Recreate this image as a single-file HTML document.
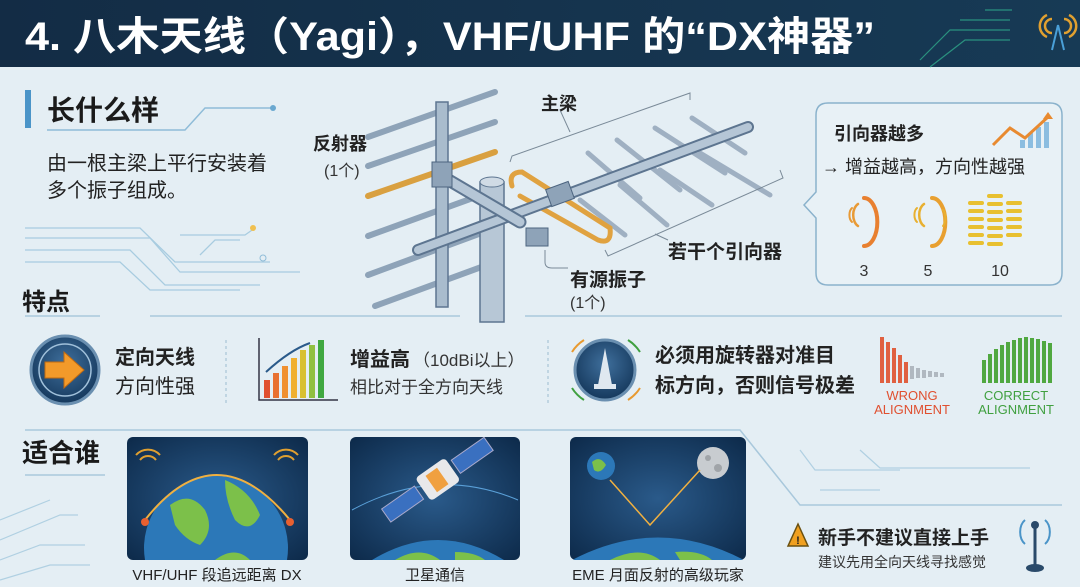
<!DOCTYPE html>
<html><head><meta charset="utf-8"><style>
html,body{margin:0;padding:0;background:#e4eef4;width:1080px;height:587px;overflow:hidden;}
svg{display:block}
text{font-family:"Liberation Sans","Noto Sans CJK SC",sans-serif;}
</style></head><body>
<svg width="1080" height="587" viewBox="0 0 1080 587" xmlns="http://www.w3.org/2000/svg">
<defs>
<linearGradient id="hd" x1="0" x2="1"><stop offset="0" stop-color="#132c45"/><stop offset="1" stop-color="#173a55"/></linearGradient>
<radialGradient id="sp" cx="0.5" cy="0.5" r="0.7"><stop offset="0" stop-color="#2a5a8a"/><stop offset="1" stop-color="#0d2a4a"/></radialGradient>
<radialGradient id="ic" cx="0.5" cy="0.4" r="0.6"><stop offset="0" stop-color="#3f6f9c"/><stop offset="1" stop-color="#15385c"/></radialGradient>
<clipPath id="c1"><rect x="127" y="437" width="181" height="123" rx="6"/></clipPath>
<clipPath id="c2"><rect x="350" y="437" width="170" height="123" rx="6"/></clipPath>
<clipPath id="c3"><rect x="570" y="437" width="176" height="123" rx="6"/></clipPath>
</defs>
<rect width="1080" height="587" fill="#e4eef4"/>
<!-- header -->
<rect width="1080" height="67" fill="url(#hd)"/>
<text x="25" y="50" font-size="40" font-weight="bold" fill="#fff" textLength="850" lengthAdjust="spacingAndGlyphs">4. 八木天线（Yagi），VHF/UHF 的“DX神器”</text>
<g stroke="#2fa88a" stroke-width="1.2" fill="none" opacity="0.8">
<path d="M920 60 L950 30 H1010"/><path d="M930 67 L965 40 H1010"/><path d="M960 20 H1010"/><path d="M985 10 H1012"/>
</g>
<g fill="none" stroke="#e0a030" stroke-width="2.5"><path d="M1047 15 a12 12 0 0 0 0 22"/><path d="M1069 15 a12 12 0 0 1 0 22"/><path d="M1052 19 a7 7 0 0 0 0 14"/><path d="M1064 19 a7 7 0 0 1 0 14"/></g>
<path d="M1058 25 L1052 50 M1058 25 L1064 50" stroke="#4aa0d8" stroke-width="2"/>
<!-- section 1 -->
<rect x="25" y="90" width="6" height="38" fill="#4a94c8"/>
<text x="47" y="120" font-size="28" font-weight="bold" fill="#1a1a1a">长什么样</text>
<path d="M47 130 H185 L205 108 H272" stroke="#8fbcd8" stroke-width="1.5" fill="none"/><circle cx="273" cy="108" r="3" fill="#6aa8d0"/>
<text x="47" y="170" font-size="20" fill="#222">由一根主梁上平行安装着</text>
<text x="47" y="197" font-size="20" fill="#222">多个振子组成。</text>
<g stroke="#a8cce0" stroke-width="1.3" fill="none">
<path d="M25 228 H140 L175 262 H270"/><path d="M25 238 H150 L180 272 H300"/><path d="M25 250 H130 L165 285 H260"/><path d="M25 262 H120 L150 290 H240"/><path d="M180 235 H245 L255 228"/><path d="M200 255 L215 240 H240"/>
</g>
<circle cx="253" cy="228" r="3" fill="#f0c050"/><circle cx="263" cy="258" r="3" fill="none" stroke="#8fbcd8"/>
<!-- antenna -->
<g stroke-linecap="round">
<g stroke="#8ea3b8" stroke-width="6">
<line x1="368" y1="137" x2="495" y2="92"/><line x1="368" y1="166" x2="495" y2="122"/>
<line x1="368" y1="236" x2="495" y2="190"/><line x1="368" y1="275" x2="495" y2="228"/><line x1="375" y1="306" x2="495" y2="262"/>
</g>
<line x1="368" y1="196" x2="495" y2="152" stroke="#d9a040" stroke-width="6"/>
<rect x="436" y="102" width="12" height="205" fill="#a9bccd" stroke="#5d7590" stroke-width="1.5"/>
<rect x="480" y="182" width="24" height="140" fill="#b7c7d6" stroke="#5d7590" stroke-width="1.5"/>
<ellipse cx="492" cy="182" rx="12" ry="5" fill="#d0dbe5" stroke="#5d7590"/>
<g stroke="#9fb0c2" stroke-width="5">
<line x1="588" y1="153" x2="640" y2="198"/><line x1="617" y1="140" x2="680" y2="190"/><line x1="655" y1="128" x2="725" y2="173"/><line x1="692" y1="118" x2="745" y2="153"/>
<line x1="580" y1="200" x2="625" y2="235"/><line x1="620" y1="185" x2="667" y2="225"/><line x1="660" y1="170" x2="712" y2="205"/><line x1="700" y1="153" x2="770" y2="195"/>
</g>
<path d="M512 186 Q508 172 522 172 L610 228 Q612 245 598 240 L520 196" fill="none" stroke="#e0a240" stroke-width="5"/>
<line x1="418" y1="250" x2="748" y2="127" stroke="#5d7590" stroke-width="12"/>
<line x1="418" y1="250" x2="748" y2="127" stroke="#b5c6d6" stroke-width="8"/>
<line x1="440" y1="175" x2="520" y2="222" stroke="#5d7590" stroke-width="13"/>
<line x1="440" y1="175" x2="520" y2="222" stroke="#b5c6d6" stroke-width="9"/>
<rect x="432" y="162" width="20" height="25" fill="#8ea3b8" stroke="#4d6580"/>
<rect x="548" y="185" width="24" height="18" fill="#8ea3b8" stroke="#4d6580" transform="rotate(-20 560 194)"/>
<rect x="526" y="228" width="22" height="18" fill="#8ea3b8" stroke="#4d6580"/>
</g>
<g stroke="#7a8a98" stroke-width="1" fill="none">
<path d="M510 162 L512 156 L690 93 L690 100"/><path d="M560 110 L570 132"/>
<path d="M605 250 L608 256 L783 178 L780 170"/><path d="M655 234 L668 240"/>
<path d="M545 250 V262 Q545 268 552 268 H568"/>
</g>
<text x="313" y="150" font-size="18" font-weight="bold" fill="#222">反射器</text>
<text x="324" y="176" font-size="16" fill="#333">(1个)</text>
<text x="541" y="110" font-size="18" font-weight="bold" fill="#222">主梁</text>
<text x="668" y="258" font-size="19" font-weight="bold" fill="#222">若干个引向器</text>
<text x="570" y="286" font-size="19" font-weight="bold" fill="#222">有源振子</text>
<text x="570" y="308" font-size="16" fill="#333">(1个)</text>
<!-- right box -->
<path d="M828 103 H1050 Q1062 103 1062 115 V273 Q1062 285 1050 285 H828 Q816 285 816 273 V218 L804 205 L816 192 V115 Q816 103 828 103Z" fill="#e8f1f6" stroke="#8ab2cc" stroke-width="1.5"/>
<text x="834" y="140" font-size="18" font-weight="bold" fill="#222">引向器越多</text>
<text x="822" y="173" font-size="18" fill="#222">→ 增益越高，方向性越强</text>
<g fill="#8bbde0"><rect x="1020" y="140" width="5" height="8"/><rect x="1028" y="133" width="5" height="15"/><rect x="1036" y="127" width="5" height="21"/><rect x="1044" y="122" width="5" height="26"/></g>
<path d="M993 145 L1010 128 L1025 138 L1048 117" fill="none" stroke="#e88a30" stroke-width="3"/>
<path d="M1048 112 L1053 119 L1043 119Z" fill="#e88a30"/>
<g fill="none" stroke-linecap="round">
<path d="M852 208 a5 8 0 0 0 0 14" stroke="#e89a35" stroke-width="2"/><path d="M858 204 a8 12 0 0 0 0 22" stroke="#e89a35" stroke-width="2.5"/><path d="M864 198 a10 18 0 0 1 0 48" stroke="#e88030" stroke-width="4"/>
<path d="M917 208 a5 8 0 0 0 0 14" stroke="#e8b030" stroke-width="2"/><path d="M924 204 a8 12 0 0 0 0 22" stroke="#e8b030" stroke-width="2.5"/><path d="M932 198 a10 18 0 0 1 0 48" stroke="#e8a030" stroke-width="4"/><path d="M943 210 a6 10 0 0 1 0 16" stroke="#e8b030" stroke-width="2"/>
</g>
<g stroke="#e8c030" stroke-width="4" stroke-linecap="round">
<line x1="970" y1="203" x2="982" y2="203"/><line x1="970" y1="211" x2="982" y2="211"/><line x1="970" y1="219" x2="982" y2="219"/><line x1="970" y1="227" x2="982" y2="227"/><line x1="970" y1="235" x2="982" y2="235"/><line x1="970" y1="243" x2="982" y2="243"/>
<line x1="989" y1="196" x2="1001" y2="196"/><line x1="989" y1="204" x2="1001" y2="204"/><line x1="989" y1="212" x2="1001" y2="212"/><line x1="989" y1="220" x2="1001" y2="220"/><line x1="989" y1="228" x2="1001" y2="228"/><line x1="989" y1="236" x2="1001" y2="236"/><line x1="989" y1="244" x2="1001" y2="244"/>
<line x1="1008" y1="203" x2="1020" y2="203"/><line x1="1008" y1="211" x2="1020" y2="211"/><line x1="1008" y1="219" x2="1020" y2="219"/><line x1="1008" y1="227" x2="1020" y2="227"/><line x1="1008" y1="235" x2="1020" y2="235"/>
</g>
<text x="864" y="276" font-size="16" fill="#333" text-anchor="middle">3</text>
<text x="928" y="276" font-size="16" fill="#333" text-anchor="middle">5</text>
<text x="1000" y="276" font-size="16" fill="#333" text-anchor="middle">10</text>
<!-- 特点 -->
<text x="22" y="310" font-size="24" font-weight="bold" fill="#1a1a1a">特点</text>
<path d="M25 316 H100 M150 316 H460 M525 316 H1062" stroke="#a9c8dc" stroke-width="1.5"/>
<circle cx="65" cy="370" r="34" fill="url(#ic)" stroke="#6a8fb0" stroke-width="3"/>
<circle cx="65" cy="370" r="26" fill="none" stroke="#a0c0da" stroke-width="1.5"/>
<path d="M45 362 H64 V352 L84 370 L64 388 V378 H45Z" fill="#f29a2a" stroke="#c06a10"/>
<text x="115" y="364" font-size="20" font-weight="bold" fill="#222">定向天线</text>
<text x="115" y="393" font-size="20" fill="#222">方向性强</text>
<line x1="226" y1="340" x2="226" y2="405" stroke="#9bbcd0" stroke-dasharray="3 3"/>
<path d="M259 338 V400 H338" fill="none" stroke="#334" stroke-width="1.5"/>
<g><rect x="264" y="380" width="6" height="18" fill="#e05030"/><rect x="273" y="373" width="6" height="25" fill="#e87030"/><rect x="282" y="366" width="6" height="32" fill="#f09030"/><rect x="291" y="358" width="6" height="40" fill="#f0b030"/><rect x="300" y="350" width="6" height="48" fill="#d8c030"/><rect x="309" y="345" width="6" height="53" fill="#90c040"/><rect x="318" y="340" width="6" height="58" fill="#40a840"/></g>
<path d="M266 372 Q290 350 310 343" fill="none" stroke="#2a5a8a" stroke-width="2"/>
<text x="350" y="366" font-size="20" font-weight="bold" fill="#222">增益高</text>
<text x="413" y="366" font-size="17" fill="#333">（10dBi以上）</text>
<text x="350" y="393" font-size="17" fill="#333">相比对于全方向天线</text>
<line x1="548" y1="340" x2="548" y2="405" stroke="#9bbcd0" stroke-dasharray="3 3"/>
<circle cx="605" cy="370" r="30" fill="url(#ic)" stroke="#6a8fb0" stroke-width="3"/>
<path d="M605 348 L598 385 H612Z" fill="#dfe8f0"/><rect x="594" y="384" width="22" height="5" fill="#dfe8f0"/>
<path d="M572 352 a38 38 0 0 1 12 -12" fill="none" stroke="#e89a30" stroke-width="2"/><path d="M628 340 a38 38 0 0 1 12 12" fill="none" stroke="#40a040" stroke-width="2"/>
<path d="M572 388 a38 38 0 0 0 12 12" fill="none" stroke="#40a040" stroke-width="2"/><path d="M628 400 a38 38 0 0 0 12 -12" fill="none" stroke="#e89a30" stroke-width="2"/>
<text x="655" y="362" font-size="20" font-weight="bold" fill="#222">必须用旋转器对准目</text>
<text x="655" y="392" font-size="20" font-weight="bold" fill="#222">标方向，否则信号极差</text>
<g fill="#e06040"><rect x="880" y="337" width="4" height="46"/><rect x="886" y="342" width="4" height="41"/><rect x="892" y="348" width="4" height="35"/><rect x="898" y="355" width="4" height="28"/><rect x="904" y="362" width="4" height="21"/></g>
<g fill="#b0b8c0"><rect x="910" y="366" width="4" height="13"/><rect x="916" y="368" width="4" height="10"/><rect x="922" y="370" width="4" height="8"/><rect x="928" y="371" width="4" height="6"/><rect x="934" y="372" width="4" height="5"/><rect x="940" y="373" width="4" height="4"/></g>
<g fill="#50a840"><rect x="982" y="360" width="4" height="23"/><rect x="988" y="354" width="4" height="29"/><rect x="994" y="349" width="4" height="34"/><rect x="1000" y="345" width="4" height="38"/><rect x="1006" y="342" width="4" height="41"/><rect x="1012" y="340" width="4" height="43"/><rect x="1018" y="338" width="4" height="45"/><rect x="1024" y="337" width="4" height="46"/><rect x="1030" y="338" width="4" height="45"/><rect x="1036" y="339" width="4" height="44"/><rect x="1042" y="341" width="4" height="42"/><rect x="1048" y="343" width="4" height="40"/></g>
<text x="912" y="400" font-size="13" fill="#e05030" text-anchor="middle">WRONG</text>
<text x="912" y="414" font-size="13" fill="#e05030" text-anchor="middle">ALIGNMENT</text>
<text x="1016" y="400" font-size="13" fill="#40a040" text-anchor="middle">CORRECT</text>
<text x="1016" y="414" font-size="13" fill="#40a040" text-anchor="middle">ALIGNMENT</text>
<!-- 适合谁 -->
<path d="M25 430 H740 L800 505 H1062" stroke="#a9c8dc" stroke-width="1.5" fill="none"/>
<text x="22" y="462" font-size="26" font-weight="bold" fill="#1a1a1a">适合谁</text>
<path d="M25 475 H105" stroke="#a9c8dc" stroke-width="1.5"/>
<g stroke="#b0d0e2" stroke-width="1.2" fill="none"><path d="M0 520 L50 500 M0 540 L60 515 H78 M0 560 L40 545 H85 M0 580 L50 565 H90"/><path d="M800 450 L815 470 H900 M860 450 L880 468 H1030 M820 490 H880"/></g>
<!-- cards -->
<rect x="127" y="437" width="181" height="123" rx="6" fill="url(#sp)"/>
<g clip-path="url(#c1)">
<path d="M145 560 A72 72 0 1 1 287 560 Z" fill="#2c78b8"/><path d="M170 505 Q190 490 205 510 Q215 530 200 545 Q185 540 175 525Z M225 480 Q250 490 260 515 Q250 535 235 520 Q225 500 225 480Z M215 560 Q235 545 250 560Z" fill="#7cc04a"/>
<path d="M145 520 Q216 430 290 520" fill="none" stroke="#f0b040" stroke-width="2"/>
<circle cx="145" cy="522" r="4" fill="#e86030"/><circle cx="290" cy="522" r="4" fill="#e86030"/>
<g fill="none" stroke="#e0a030" stroke-width="2"><path d="M140 460 a10 10 0 0 1 16 0"/><path d="M136 455 a16 16 0 0 1 24 0"/><path d="M278 460 a10 10 0 0 1 16 0"/><path d="M274 455 a16 16 0 0 1 24 0"/></g>
</g>
<rect x="350" y="437" width="170" height="123" rx="6" fill="url(#sp)"/>
<g clip-path="url(#c2)">
<path d="M372 560 Q438 520 504 560 Z" fill="#2c78b8"/><path d="M395 560 Q420 545 440 560Z M455 552 Q475 552 485 560 H455Z" fill="#7cc04a"/>
<path d="M352 510 Q435 465 518 500" fill="none" stroke="#5aa0d8" stroke-width="1"/>
<g transform="rotate(-35 437 480)"><rect x="375" y="472" width="40" height="16" fill="#3a70c0" stroke="#aac"/><rect x="460" y="472" width="40" height="16" fill="#3a70c0" stroke="#aac"/><rect x="420" y="466" width="36" height="28" rx="4" fill="#e8e8ea"/><rect x="430" y="470" width="14" height="20" fill="#f0a040"/></g>
</g>
<rect x="570" y="437" width="176" height="123" rx="6" fill="url(#sp)"/>
<g clip-path="url(#c3)">
<path d="M572 560 Q658 515 744 560 Z" fill="#2c78b8"/><path d="M610 560 Q640 545 660 560Z M675 552 Q700 550 712 560 H680Z" fill="#7cc04a"/>
<circle cx="601" cy="466" r="14" fill="#2c78b8"/><path d="M592 462 Q600 455 606 465 Q600 475 594 470Z" fill="#7cc04a"/>
<circle cx="713" cy="463" r="16" fill="#c8ccd0"/><circle cx="708" cy="458" r="3" fill="#a0a4a8"/><circle cx="718" cy="468" r="4" fill="#a0a4a8"/>
<path d="M610 480 L650 525 L700 470" fill="none" stroke="#f0b040" stroke-width="1.5"/>
</g>
<text x="217" y="580" font-size="15" fill="#222" text-anchor="middle">VHF/UHF 段追远距离 DX</text>
<text x="435" y="580" font-size="15" fill="#222" text-anchor="middle">卫星通信</text>
<text x="658" y="580" font-size="15" fill="#222" text-anchor="middle">EME 月面反射的高级玩家</text>
<path d="M798 524 L788 546 H808Z" fill="#f0a020" stroke="#6a5010" stroke-width="1.5"/>
<text x="798" y="544" font-size="11" font-weight="bold" fill="#222" text-anchor="middle">!</text>
<text x="818" y="544" font-size="19" font-weight="bold" fill="#222">新手不建议直接上手</text>
<text x="818" y="567" font-size="14" fill="#333">建议先用全向天线寻找感觉</text>
<g fill="none" stroke="#4a94c8" stroke-width="2"><path d="M1025 520 a10 14 0 0 0 0 24"/><path d="M1045 520 a10 14 0 0 1 0 24"/></g>
<path d="M1035 525 V565" stroke="#2a4a6a" stroke-width="3"/><ellipse cx="1035" cy="568" rx="9" ry="4" fill="#2a4a6a"/><circle cx="1035" cy="525" r="4" fill="#2a4a6a"/>
</svg>
</body></html>
